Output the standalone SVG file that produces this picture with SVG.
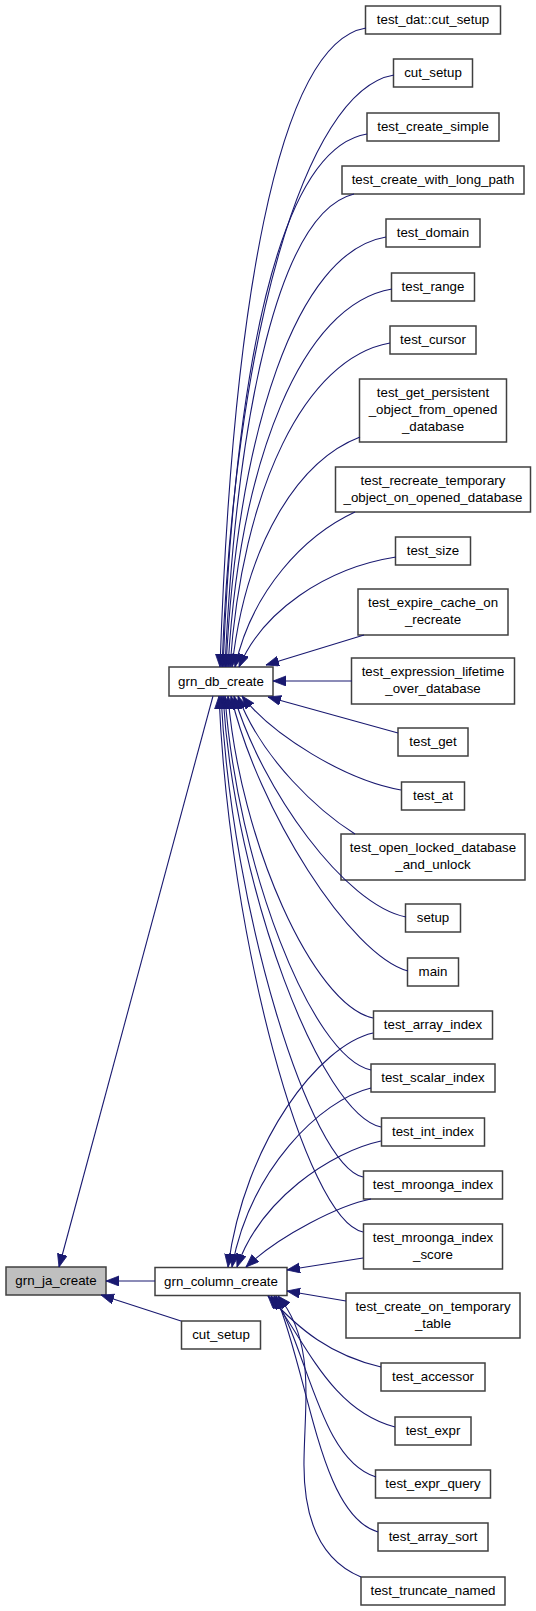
<svg xmlns="http://www.w3.org/2000/svg" width="536" height="1611" viewBox="0 0 536 1611">
<style>
.node rect{fill:#ffffff;stroke:#404040;stroke-width:1.5}
.node text{font-family:"Liberation Sans",Arial,Helvetica,sans-serif;font-size:13.3px;text-anchor:middle;fill:#000000}
#n_grn_ja_create rect{fill:#bfbfbf}
.edges path{fill:none;stroke:#191970;stroke-width:1.1;marker-end:url(#arr)}
</style>
<defs>
<marker id="arr" markerUnits="userSpaceOnUse" markerWidth="14" markerHeight="11" refX="13" refY="5" orient="auto">
<path d="M0,0 L13,5 L0,10 z" fill="#191970" stroke="#191970" stroke-width="0.8"/>
</marker>
</defs>
<rect x="0" y="0" width="536" height="1611" fill="#ffffff"/>

<g id="n_grn_ja_create" class="node"><rect x="6" y="1267" width="100" height="28"/><text x="56" y="1285">grn_ja_create</text></g>
<g id="n_grn_db_create" class="node"><rect x="169" y="667" width="104" height="29"/><text x="221" y="685.5">grn_db_create</text></g>
<g id="n_grn_column_create" class="node"><rect x="155" y="1267.5" width="132" height="28"/><text x="221" y="1285.5">grn_column_create</text></g>
<g id="n_cut_setup_l" class="node"><rect x="181.5" y="1321" width="79" height="28"/><text x="221" y="1339">cut_setup</text></g>

<g id="n_test_dat_cut_setup" class="node"><rect x="365.5" y="6" width="135" height="28"/><text x="433" y="24">test_dat::cut_setup</text></g>
<g id="n_cut_setup" class="node"><rect x="393.5" y="59" width="79" height="28"/><text x="433" y="77">cut_setup</text></g>
<g id="n_test_create_simple" class="node"><rect x="367" y="113" width="132" height="28"/><text x="433" y="131">test_create_simple</text></g>
<g id="n_test_create_with_long_path" class="node"><rect x="342" y="166" width="182" height="28"/><text x="433" y="184">test_create_with_long_path</text></g>
<g id="n_test_domain" class="node"><rect x="386" y="219" width="94" height="28"/><text x="433" y="237">test_domain</text></g>
<g id="n_test_range" class="node"><rect x="391.5" y="273" width="83" height="28"/><text x="433" y="291">test_range</text></g>
<g id="n_test_cursor" class="node"><rect x="390" y="326" width="86" height="28"/><text x="433" y="344">test_cursor</text></g>
<g id="n_test_get_persistent" class="node"><rect x="359.5" y="379" width="147" height="63"/><text x="433" y="397">test_get_persistent</text><text x="433" y="414">_object_from_opened</text><text x="433" y="431">_database</text></g>
<g id="n_test_recreate_temporary" class="node"><rect x="335.5" y="467" width="195" height="45"/><text x="433" y="484.5">test_recreate_temporary</text><text x="433" y="501.5">_object_on_opened_database</text></g>
<g id="n_test_size" class="node"><rect x="395.5" y="537" width="75" height="28"/><text x="433" y="555">test_size</text></g>
<g id="n_test_expire_cache" class="node"><rect x="358" y="589" width="150" height="46"/><text x="433" y="607">test_expire_cache_on</text><text x="433" y="624">_recreate</text></g>
<g id="n_test_expression_lifetime" class="node"><rect x="351.5" y="658" width="163" height="46"/><text x="433" y="676">test_expression_lifetime</text><text x="433" y="693">_over_database</text></g>
<g id="n_test_get" class="node"><rect x="398" y="728" width="70" height="28"/><text x="433" y="746">test_get</text></g>
<g id="n_test_at" class="node"><rect x="401.5" y="782" width="63" height="28"/><text x="433" y="800">test_at</text></g>
<g id="n_test_open_locked" class="node"><rect x="341" y="834" width="184" height="46"/><text x="433" y="852">test_open_locked_database</text><text x="433" y="869">_and_unlock</text></g>
<g id="n_setup" class="node"><rect x="405.5" y="904" width="55" height="28"/><text x="433" y="922">setup</text></g>
<g id="n_main" class="node"><rect x="407.5" y="958" width="51" height="28"/><text x="433" y="976">main</text></g>
<g id="n_test_array_index" class="node"><rect x="373.5" y="1011" width="119" height="28"/><text x="433" y="1029">test_array_index</text></g>
<g id="n_test_scalar_index" class="node"><rect x="371" y="1064" width="124" height="28"/><text x="433" y="1082">test_scalar_index</text></g>
<g id="n_test_int_index" class="node"><rect x="381.5" y="1118" width="103" height="28"/><text x="433" y="1136">test_int_index</text></g>
<g id="n_test_mroonga_index" class="node"><rect x="363.5" y="1171" width="139" height="28"/><text x="433" y="1189">test_mroonga_index</text></g>
<g id="n_test_mroonga_index_score" class="node"><rect x="363.5" y="1224" width="139" height="45"/><text x="433" y="1241.5">test_mroonga_index</text><text x="433" y="1258.5">_score</text></g>
<g id="n_test_create_on_temporary_table" class="node"><rect x="346" y="1293" width="174" height="45"/><text x="433" y="1310.5">test_create_on_temporary</text><text x="433" y="1327.5">_table</text></g>
<g id="n_test_accessor" class="node"><rect x="381" y="1363" width="104" height="28"/><text x="433" y="1381">test_accessor</text></g>
<g id="n_test_expr" class="node"><rect x="395" y="1417" width="76" height="28"/><text x="433" y="1435">test_expr</text></g>
<g id="n_test_expr_query" class="node"><rect x="375.5" y="1470" width="115" height="28"/><text x="433" y="1488">test_expr_query</text></g>
<g id="n_test_array_sort" class="node"><rect x="378" y="1523" width="110" height="28"/><text x="433" y="1541">test_array_sort</text></g>
<g id="n_test_truncate_named" class="node"><rect x="361" y="1577" width="144" height="28"/><text x="433" y="1595">test_truncate_named</text></g>

<g id="edges" class="edges">
<path d="M366,28 C276,43 232,316 220,667"/>
<path d="M394,75 C304,90 234,341 222,667"/>
<path d="M367,134 C277,149 235,374 223,667"/>
<path d="M354,194 C280,212 237,407 225,667"/>
<path d="M386,237 C296,252 238,431 226,667"/>
<path d="M392,289 C302,304 240,459 228,667"/>
<path d="M390,343 C305,358 242,489 230,667"/>
<path d="M360,437 C300,460 246,540 232,667"/>
<path d="M355,512 C305,535 252,590 235,667"/>
<path d="M396,557 C325,568 262,612 239,667"/>
<path d="M364,635 L266,665"/>
<path d="M352,681 L273,681"/>
<path d="M398,733 L268,697"/>
<path d="M401,790 C345,780 272,735 242,696"/>
<path d="M355,834 C320,812 262,760 238,696"/>
<path d="M406,917 C345,905 262,790 234,696"/>
<path d="M408,971 C350,955 258,810 231,696"/>
<path d="M373,1018 C313,1005 240,841 228,696"/>
<path d="M371,1070 C311,1057 237,864 225,696"/>
<path d="M381,1127 C321,1114 235,890 223,696"/>
<path d="M363,1177 C310,1165 232,912 221,696"/>
<path d="M363,1232 C305,1220 229,937 219,696"/>
<path d="M373,1033 C320,1045 245,1140 228,1267"/>
<path d="M371,1088 C320,1100 250,1170 232,1267"/>
<path d="M381,1141 C330,1152 260,1200 237,1267"/>
<path d="M371,1199 C340,1205 280,1235 246,1267"/>
<path d="M363,1258 L287,1270"/>
<path d="M346,1301 L287,1291"/>
<path d="M381,1367 C330,1355 300,1330 268,1296"/>
<path d="M395,1427 C330,1410 305,1340 271,1296"/>
<path d="M376,1477 C320,1460 308,1350 274,1296"/>
<path d="M378,1532 C320,1515 310,1380 276,1296"/>
<path d="M361,1577 C320,1560 303,1520 304,1460 C305,1400 315,1340 278,1296"/>
<path d="M213,696 L59,1267"/>
<path d="M155,1281 L106,1281"/>
<path d="M181,1321 L101,1295"/>
</g>
</svg>
